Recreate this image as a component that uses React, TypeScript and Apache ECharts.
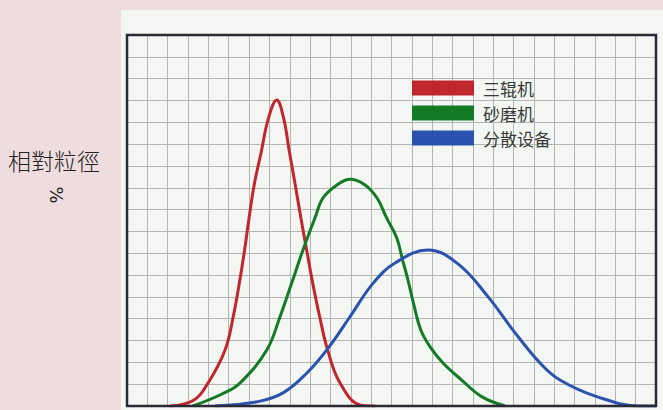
import React, { useEffect, useRef } from "react";
import * as echarts from "echarts";

const seriesNames = ["三辊机", "砂磨机", "分散设备"];
const yAxisTitle = "相對粒徑";
const yAxisUnit = "%";

// x in grid columns (0..26), y in grid rows (0..17)
const redX = [2.11, 3.25, 3.98, 4.82, 5.22, 5.52, 5.78, 6.0, 6.25, 6.6, 6.95, 7.36, 7.7, 7.98, 8.27, 8.55, 8.83, 9.13, 9.47, 9.86, 10.47, 11.45, 12.19];
const redY = [0, 0.25, 1.05, 2.57, 4.09, 5.62, 7.15, 8.62, 10.13, 11.65, 13.18, 14.02, 13.18, 11.65, 10.13, 8.6, 7.15, 5.62, 4.09, 2.57, 1.05, 0.05, 0];

const greenX = [3.24, 4.67, 5.55, 6.87, 7.52, 8.09, 8.65, 9.24, 9.63, 10.32, 10.96, 11.7, 12.29, 12.76, 13.26, 13.52, 13.81, 14.1, 14.44, 14.89, 15.53, 16.45, 17.43, 18.58];
const greenY = [0, 0.55, 1.05, 2.57, 4.09, 5.62, 7.15, 8.62, 9.53, 10.13, 10.39, 10.13, 9.53, 8.62, 7.7, 6.78, 5.77, 4.63, 3.48, 2.72, 1.97, 1.19, 0.43, 0];

const blueX = [4.33, 6.44, 7.67, 8.83, 9.82, 10.96, 12.09, 13.17, 14.79, 16.27, 17.74, 18.97, 20.3, 21.28, 23.09, 25.21, 26];
const blueY = [0, 0.2, 0.6, 1.5, 2.57, 4.09, 5.62, 6.55, 7.15, 6.51, 5.01, 3.48, 1.97, 1.19, 0.43, 0, 0];

const xMax = 26;
const yMax = 17;

const colors = ["#c0262c", "#137a26", "#2a52ae"];

const zip = (xs: number[], ys: number[]) => xs.map((x, i) => [x, ys[i]]);

const GRID = { left: 127, top: 35, width: 529, height: 371 };

export default function App() {
  const ref = useRef<HTMLDivElement>(null);
  useEffect(() => {
    if (!ref.current) return;
    const chart = echarts.init(ref.current, undefined, { renderer: "svg" });
    const lineSeries = (name: string, data: number[][], color: string) => ({
      name,
      type: "line",
      data,
      smooth: 0.4,
      showSymbol: false,
      symbol: "none",
      color,
      lineStyle: { color, width: 3 },
      z: 3,
    });
    chart.setOption({
      animation: false,
      backgroundColor: "#efdcdf",
      grid: { left: GRID.left, top: GRID.top, width: GRID.width, height: GRID.height, containLabel: false },
      xAxis: {
        type: "value",
        min: 0,
        max: xMax,
        interval: 1,
        axisLabel: { show: false },
        axisTick: { show: false },
        axisLine: { show: false },
        splitLine: { show: true, lineStyle: { color: "#b2b5b2", width: 1 } },
      },
      yAxis: {
        type: "value",
        min: 0,
        max: yMax,
        interval: 1,
        axisLabel: { show: false },
        axisTick: { show: false },
        axisLine: { show: false },
        splitLine: { show: true, lineStyle: { color: "#b2b5b2", width: 1 } },
      },
      legend: {
        orient: "vertical",
        left: 412,
        top: 78,
        padding: 0,
        itemWidth: 62,
        itemHeight: 15,
        itemGap: 5,
        icon: "rect",
        data: seriesNames,
        textStyle: {
          fontSize: 17,
          lineHeight: 20,
          color: "#3a3a3a",
          fontFamily: "Noto Sans CJK SC",
          padding: [0, 0, 0, 4],
        },
      },
      graphic: [
        {
          type: "rect",
          z: -10,
          shape: { x: 121, y: 10, width: 542, height: 400 },
          style: { fill: "#f3f6f2" },
          silent: true,
        },
        {
          type: "rect",
          z: 100,
          shape: { x: GRID.left, y: GRID.top, width: GRID.width, height: GRID.height },
          style: { fill: "none", stroke: "#2a2a36", lineWidth: 2.5 },
          silent: true,
        },
        {
          type: "text",
          x: 8,
          y: 160,
          style: {
            text: yAxisTitle,
            fontSize: 23,
            fontWeight: 300,
            fill: "#222",
            fontFamily: "Noto Sans CJK TC",
            verticalAlign: "middle",
            align: "left",
          },
        },
        {
          type: "text",
          x: 56,
          y: 195,
          rotation: -Math.PI / 2,
          style: {
            text: yAxisUnit,
            fontSize: 18,
            fill: "#222",
            fontFamily: "DejaVu Sans",
            verticalAlign: "middle",
            align: "center",
          },
        },
      ],
      series: [
        lineSeries(seriesNames[0], zip(redX, redY), colors[0]),
        lineSeries(seriesNames[1], zip(greenX, greenY), colors[1]),
        lineSeries(seriesNames[2], zip(blueX, blueY), colors[2]),
      ],
    });
    return () => chart.dispose();
  }, []);
  return (
    <div
      ref={ref}
      style={{ position: "absolute", left: 0, top: 0, width: 663, height: 410 }}
    />
  );
}
